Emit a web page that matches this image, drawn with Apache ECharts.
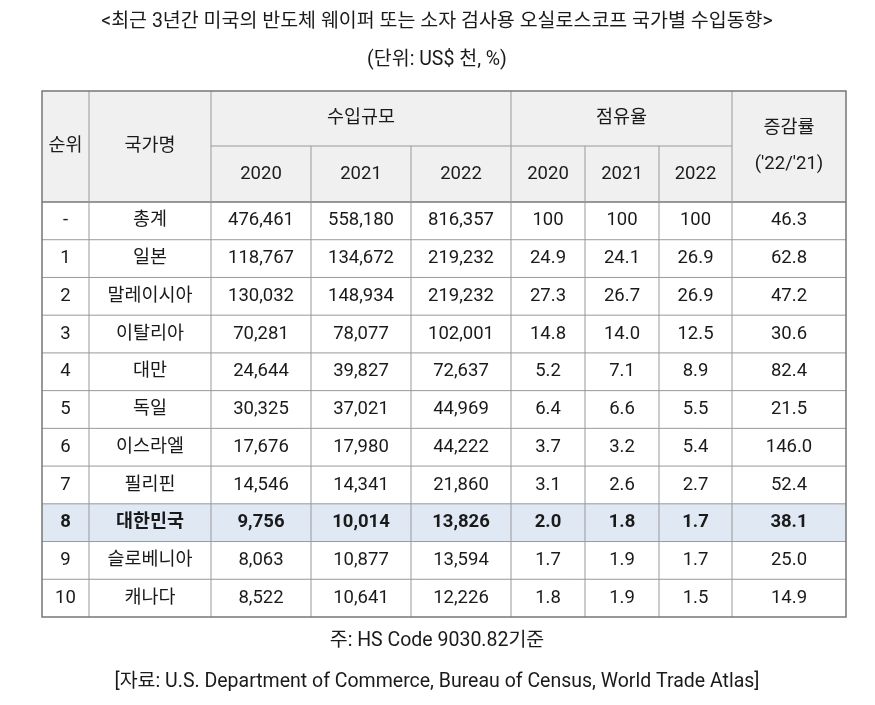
<!DOCTYPE html>
<html><head><meta charset="utf-8">
<script src="https://cdn.jsdelivr.net/npm/echarts@6/dist/echarts.min.js"></script>
<style>html,body{margin:0;padding:0;background:#fff}#c{width:875px;height:705px}</style>
</head><body><div id="c"></div>
<script>
const title = "<최근 3년간 미국의 반도체 웨이퍼 또는 소자 검사용 오실로스코프 국가별 수입동향>";
const unit = "(단위: US$ 천, %)";
const note1 = "주: HS Code 9030.82기준";
const note2 = "[자료: U.S. Department of Commerce, Bureau of Census, World Trade Atlas]";
const years = ["2020", "2021", "2022"];
const ranks = ["-", "1", "2", "3", "4", "5", "6", "7", "8", "9", "10"];
const countries = ["총계", "일본", "말레이시아", "이탈리아", "대만", "독일", "이스라엘", "필리핀", "대한민국", "슬로베니아", "캐나다"];
const imp2020 = ["476,461","118,767","130,032","70,281","24,644","30,325","17,676","14,546","9,756","8,063","8,522"];
const imp2021 = ["558,180","134,672","148,934","78,077","39,827","37,021","17,980","14,341","10,014","10,877","10,641"];
const imp2022 = ["816,357","219,232","219,232","102,001","72,637","44,969","44,222","21,860","13,826","13,594","12,226"];
const sh2020 = ["100","24.9","27.3","14.8","5.2","6.4","3.7","3.1","2.0","1.7","1.8"];
const sh2021 = ["100","24.1","26.7","14.0","7.1","6.6","3.2","2.6","1.8","1.9","1.9"];
const sh2022 = ["100","26.9","26.9","12.5","8.9","5.5","5.4","2.7","1.7","1.7","1.5"];
const growth = ["46.3","62.8","47.2","30.6","82.4","21.5","146.0","52.4","38.1","25.0","14.9"];
const highlightRow = 8;

const FONT = 'Roboto, "Noto Sans CJK KR", sans-serif';
const colX = [42, 89, 211, 311, 411, 511, 585, 659, 732, 846];
const topY = 91, midY = 146, headBot = 202, botY = 617;
const rowH = (botY - headBot) / ranks.length;
const els = [];
function txt(x, y, s, opt) {
  els.push({type:'text', x:x, y:y, style:Object.assign({text:s, font:'18.5px '+FONT, fill:'#1a1a1a', textAlign:'center', textVerticalAlign:'middle'}, opt||{})});
}
function rect(x, y, w, h, fill) { els.push({type:'rect', shape:{x:x,y:y,width:w,height:h}, style:{fill:fill}}); }
function line(x1,y1,x2,y2,c,w){ els.push({type:'line', shape:{x1:x1,y1:y1,x2:x2,y2:y2}, style:{stroke:c||'#999', lineWidth:w||1}}); }

txt(437, 22, title, {font:'19.5px '+FONT});
txt(437, 60, unit, {font:'19.5px '+FONT});
txt(437, 641, note1, {font:'19.5px '+FONT});
txt(437, 682, note2, {font:'19.5px '+FONT});

rect(colX[0], topY, colX[9]-colX[0], headBot-topY, '#f0f0f0');
rect(colX[0], headBot + highlightRow*rowH, colX[9]-colX[0], rowH, '#dfe8f3');

const cols = [ranks, countries, imp2020, imp2021, imp2022, sh2020, sh2021, sh2022, growth];
for (let r = 0; r < ranks.length; r++) {
  const cy = headBot + (r+0.5)*rowH;
  const bold = r === highlightRow ? 'bold ' : '';
  cols.forEach((col, c) => {
    txt((colX[c]+colX[c+1])/2, cy, col[r], {font: bold+'18.5px '+FONT});
  });
}
txt((colX[0]+colX[1])/2, 146, "순위");
txt((colX[1]+colX[2])/2, 146, "국가명");
txt((colX[2]+colX[5])/2, 118, "수입규모");
txt((colX[5]+colX[8])/2, 118, "점유율");
txt((colX[8]+colX[9])/2, 128, "증감률");
txt((colX[8]+colX[9])/2, 164, "('22/'21)");
years.forEach((y,i)=>{
  txt((colX[2+i]+colX[3+i])/2, 174, y);
  txt((colX[5+i]+colX[6+i])/2, 174, y);
});

for (let r = 1; r < ranks.length; r++) line(colX[0], headBot + r*rowH, colX[9], headBot + r*rowH);
line(colX[0], headBot, colX[9], headBot, '#777', 1.5);
line(colX[2], midY, colX[8], midY);
for (let c = 1; c < 9; c++) {
  const y0 = (c===3||c===4||c===6||c===7) ? midY : topY;
  line(colX[c], y0, colX[c], botY);
}
els.push({type:'rect', shape:{x:colX[0], y:topY, width:colX[9]-colX[0], height:botY-topY}, style:{fill:'none', stroke:'#777', lineWidth:1.5}});

const chart = echarts.init(document.getElementById('c'));
chart.setOption({animation:false, graphic:{elements:els}});
</script></body></html>
